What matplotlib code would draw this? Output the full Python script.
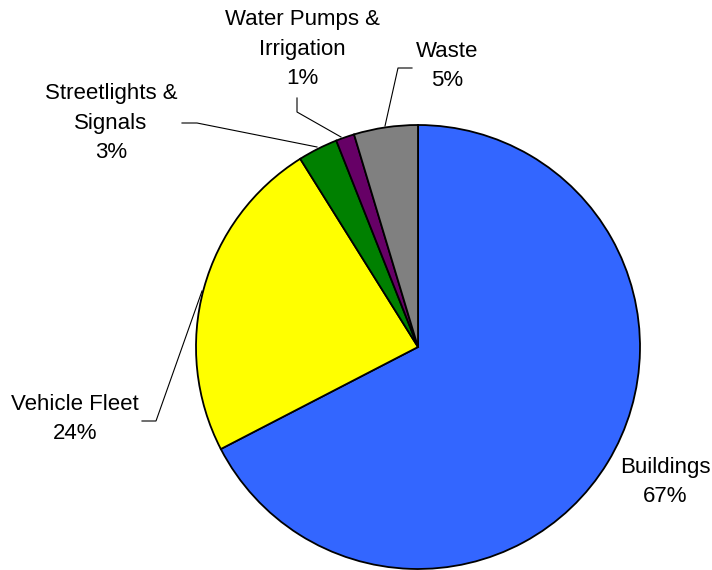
import numpy as np
from matplotlib import pyplot as plt

# --- data ---
categories = ["Buildings", "Vehicle Fleet", "Streetlights &\nSignals",
              "Water Pumps &\nIrrigation", "Waste"]
shares = [67.4, 23.7, 2.9, 1.35, 4.65]
pct_labels = ["67%", "24%", "3%", "1%", "5%"]
colors = ["#3366FF", "#FFFF00", "#008000", "#660066", "#808080"]

W, H = 712, 570
plt.rcParams["font.family"] = ["Liberation Sans", "DejaVu Sans"]

fig = plt.figure(figsize=(W / 100, H / 100), dpi=100)
ax = fig.add_axes([0, 0, 1, 1])


def py(y):
    # pixel row (from top) -> data y
    return H - y


cx, cy, r = 418, 347, 222
ax.pie(shares, colors=colors, startangle=90, counterclock=False,
       center=(cx, py(cy)), radius=r,
       wedgeprops=dict(edgecolor="black", linewidth=1.3))
ax.set_xlim(0, W)
ax.set_ylim(0, H)
ax.set_aspect("equal")
ax.axis("off")

# --- label layout (pixel coords) ---
label_pos = [(665, 482), (75, 419), (111, 123), (302, 49), (447, 66)]
leaders = [
    None,
    [(142, 421), (156, 421), (202, 291)],
    [(182, 123), (197, 123), (317, 147)],
    [(297, 98), (297, 112), (341, 137)],
    [(412, 68), (398, 68), (385, 126)],
]

for name, pct, (lx, ly), lead in zip(categories, pct_labels, label_pos, leaders):
    ax.text(lx, py(ly), f"{name}\n{pct}", ha="center", va="center",
            fontsize=16, linespacing=1.56, color="black")
    if lead is not None:
        xs = [p[0] for p in lead]
        ys = [py(p[1]) for p in lead]
        ax.plot(xs, ys, color="black", linewidth=0.8)

fig.savefig("out.png", dpi=100, facecolor="white")
